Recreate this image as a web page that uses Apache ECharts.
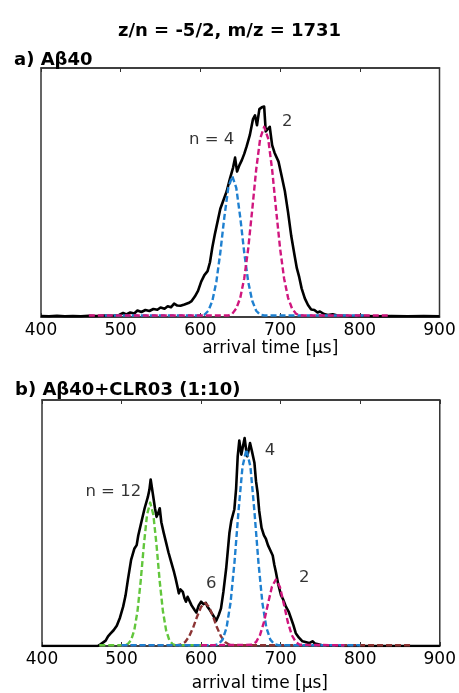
<!DOCTYPE html>
<html>
<head>
<meta charset="utf-8">
<script src="https://cdn.jsdelivr.net/npm/echarts@6/dist/echarts.min.js"></script>
<style>
html,body{margin:0;padding:0;background:#fff;}
#chart{width:459px;height:693px;}
</style>
</head>
<body>
<div id="chart"></div>
<script>
// ---------- data (arrival time in µs, intensity in % of plot height) ----------
var xTicks = [400, 500, 600, 700, 800, 900];

var topMeasured = [[400,0.4],[410,0.3],[420,0.5],[430,0.3],[440,0.4],[450,0.3],[460,0.5],[470,0.4],[480,0.6],[490,0.5],[498,0.8],[503,1.6],[507,1.0],[512,1.8],[517,1.4],[521,2.6],[526,2.0],[531,2.8],[536,2.4],[541,3.2],[546,2.9],[550,3.8],[555,3.3],[559,4.3],[563,3.9],[567,5.4],[571,4.6],[575,4.5],[580,5.0],[585,5.6],[589,6.4],[593,8.2],[597,10.5],[601,14.2],[605,16.8],[609,18.4],[612,22],[615,28],[618,33],[622,39],[625,43.5],[629,47],[633,50.5],[637,55.5],[641,60],[643.5,64],[646,58.4],[649,61],[652,63],[655,65.5],[658,68.5],[662,73],[666,79.5],[668.5,81],[671,77],[674,83.5],[677,84.2],[680,84.5],[682,74.5],[684,74],[687,76.4],[690,69],[693,66],[698,62.4],[702,56.5],[706,50.5],[710,42],[714,32.5],[718,25],[721,19.6],[724,16],[727,11.5],[731,7.5],[735,4.8],[739,3.0],[743,2.8],[747,1.8],[750,2.2],[755,1.2],[760,0.8],[766,1.1],[772,0.6],[780,0.5],[790,0.3],[800,0.5],[820,0.3],[840,0.4],[860,0.3],[880,0.4],[900,0.3]];
var topN4 = [[480,0.6],[600,0.6],[605,0.9],[610,2.5],[615,6.5],[620,14.1],[625,25.9],[630,40.0],[635,51.9],[640,56.6],[645,51.9],[650,40.0],[655,25.9],[660,14.1],[665,6.5],[670,2.5],[675,0.9],[680,0.6],[805,0.6]];
var topN2 = [[460,0.6],[635,0.6],[640,1.3],[645,3.4],[650,7.7],[655,15.5],[660,27.5],[665,43.0],[670,59.2],[675,71.7],[680,76.4],[685,71.7],[690,59.2],[695,43.0],[700,27.5],[705,15.5],[710,7.7],[715,3.4],[720,1.3],[725,0.6],[838,0.6]];
var topLabels = [{name:'n = 4', value:[614,71]}, {name:'2', value:[709,78.4]}];

var botMeasured = [[400,0],[470,0],[473,0.6],[477,1.5],[480,2.2],[483,3.9],[486,5.0],[490,6.4],[494,8.2],[498,11.5],[502,16],[505,20.5],[508,27],[512,35],[516,39.5],[519,41],[521,44.9],[525,50.5],[529,56],[533,60.5],[535,63.5],[536.6,67.7],[539.5,61.5],[542,56],[544,52.5],[546,54],[548,56],[550,50.3],[553,46],[556,42],[559,38],[562.5,34],[566,30],[568,27.4],[570,24.5],[572,21.4],[574,23],[577,22],[579,19.5],[581,18],[583,20],[585.5,19.4],[588,16.5],[590,16.7],[592,14.5],[594,13.6],[597,16.5],[600,18],[603,17],[606,17.5],[608,16],[611,14.6],[615,12.5],[619,10.3],[622,12.5],[625,15.3],[628,22],[631.5,31.5],[635.6,46],[638,51],[641.8,55.6],[644,64],[646,77.1],[648,83.5],[650.6,77.8],[652.5,81],[654.7,84.5],[656.5,80],[658,77.1],[660,80],[661.5,82.5],[664,79],[667,74.5],[669,67],[671,62.4],[673,55],[676,48],[679,45],[681.5,43.5],[684,41],[688,38.2],[690,36.8],[692,33],[694,30.1],[697,25],[700.4,20.7],[703,19],[706.6,16],[710,14],[713,11.3],[716,8.5],[719,5.2],[723,3.4],[727.4,1.9],[731,1.6],[735.8,1.2],[738,1.4],[740,1.9],[743,1.0],[746,0.8],[752,0.3],[760,0.2],[780,0],[900,0]];
var botN12 = [[472,0.3],[504,0.3],[508,0.8],[512,2.4],[516,6.4],[520,14.1],[524,26.2],[528,40.9],[532,53.3],[536,58.3],[540,53.3],[544,40.9],[548,26.2],[552,14.1],[556,6.4],[560,2.4],[564,0.8],[568,0.3],[600,0.3]];
var botN6 = [[500,0.3],[570,0.3],[575,0.6],[580,1.6],[585,3.9],[590,7.5],[595,12.0],[600,15.9],[605,17.5],[610,15.9],[615,12.0],[620,7.5],[625,3.9],[630,1.6],[635,0.6],[640,0.3],[865,0.3]];
var botN4 = [[500,0.3],[617,0.3],[622,0.8],[627,2.6],[632,7.5],[637,17.6],[642,34.2],[647,54.8],[652,72.8],[657,80],[662,72.8],[667,54.8],[672,34.2],[677,17.6],[682,7.5],[687,2.6],[692,0.8],[697,0.3],[800,0.3]];
var botN2 = [[600,0.3],[664,0.5],[669,1.6],[674,4.4],[679,9.7],[684,17.1],[689,24.1],[694,27],[699,24.1],[704,17.1],[709,9.7],[714,4.4],[719,1.6],[724,0.5],[780,0.3]];
var botLabels = [{name:'n = 12', value:[489.6,62.9]}, {name:'4', value:[686.5,79.2]}, {name:'6', value:[612.6,25.4]}, {name:'2', value:[729.5,27.7]}];

var mainTitle = 'z/n = -5/2, m/z = 1731';
var panelA = 'a) A\u03b240';
var panelB = 'b) A\u03b240+CLR03 (1:10)';
var xName = 'arrival time [\u00b5s]';

// ---------- styles ----------
var FONT = 'DejaVu Sans';
var C_BLUE = '#1f80d0', C_PINK = '#d0167e', C_GREEN = '#62c63c', C_BROWN = '#8c3434';

function xAxisBottom(gi, gap, shift) {
  return {
    gridIndex: gi, type: 'value', min: xTicks[0], max: xTicks[xTicks.length-1], interval: 100,
    position: 'bottom',
    axisLine: {show: true, onZero: false, lineStyle: {color: '#333', width: 1.5}},
    axisTick: {show: true, inside: true, length: 4, lineStyle: {color: '#333', width: 1}},
    axisLabel: {show: true, margin: 5, color: '#000', fontFamily: FONT, fontSize: 17},
    splitLine: {show: false},
    name: xName, nameLocation: 'middle', nameGap: gap,
    nameTextStyle: {color: '#000', fontFamily: FONT, fontSize: 17, padding: [0,0,0,shift]}
  };
}
function xAxisTop(gi) {
  return {
    gridIndex: gi, type: 'value', min: xTicks[0], max: xTicks[xTicks.length-1], interval: 100,
    position: 'top',
    axisLine: {show: true, onZero: false, lineStyle: {color: '#333', width: 1.5}},
    axisTick: {show: true, inside: true, length: 4, lineStyle: {color: '#333', width: 1}},
    axisLabel: {show: false}, splitLine: {show: false}
  };
}
function yAxis(gi) {
  return {gridIndex: gi, type: 'value', min: 0, max: 100, show: false, splitLine: {show: false}};
}
function lineSeries(xi, yi, data, color, dashed) {
  return {
    type: 'line', xAxisIndex: xi, yAxisIndex: yi, data: data, showSymbol: false, symbol: 'none',
    smooth: false, silent: true, animation: false,
    lineStyle: {color: color, width: dashed ? 2.4 : 2.6, type: dashed ? [6, 3] : 'solid', join: 'round'}
  };
}
function labelSeries(xi, yi, data) {
  return {
    type: 'scatter', xAxisIndex: xi, yAxisIndex: yi, data: data, symbolSize: 0, silent: true, animation: false,
    itemStyle: {color: '#000'},
    label: {show: true, position: 'inside', formatter: '{b}', color: '#000', textBorderWidth: 0,
            fontFamily: FONT, fontSize: 16.5}
  };
}

var chart = echarts.init(document.getElementById('chart'), null, {renderer: 'canvas'});
chart.setOption({
  backgroundColor: '#fff',
  animation: false,
  title: [
    {text: mainTitle, left: 'center', top: 17, textStyle: {fontFamily: FONT, fontSize: 18, fontWeight: 'bold', color: '#000'}},
    {text: panelA, left: 9, top: 46, textStyle: {fontFamily: FONT, fontSize: 18, fontWeight: 'bold', color: '#000'}},
    {text: panelB, left: 10, top: 376, textStyle: {fontFamily: FONT, fontSize: 18, fontWeight: 'bold', color: '#000'}}
  ],
  grid: [
    {left: 41, right: 19.5, top: 68, height: 249, show: true, borderColor: '#333', borderWidth: 1.5, backgroundColor: 'transparent'},
    {left: 42, right: 18, top: 400, height: 248, show: true, borderColor: '#333', borderWidth: 1.5, backgroundColor: 'transparent'}
  ],
  xAxis: [xAxisBottom(0, 22, 60), xAxisTop(0), xAxisBottom(1, 29, 38), xAxisTop(1)],
  yAxis: [yAxis(0), yAxis(1)],
  series: [
    lineSeries(0, 0, topMeasured, '#000', false),
    lineSeries(0, 0, topN4, C_BLUE, true),
    lineSeries(0, 0, topN2, C_PINK, true),
    labelSeries(0, 0, topLabels),
    lineSeries(2, 1, botMeasured, '#000', false),
    lineSeries(2, 1, botN12, C_GREEN, true),
    lineSeries(2, 1, botN6, C_BROWN, true),
    lineSeries(2, 1, botN4, C_BLUE, true),
    lineSeries(2, 1, botN2, C_PINK, true),
    labelSeries(2, 1, botLabels)
  ]
});
</script>
</body>
</html>
